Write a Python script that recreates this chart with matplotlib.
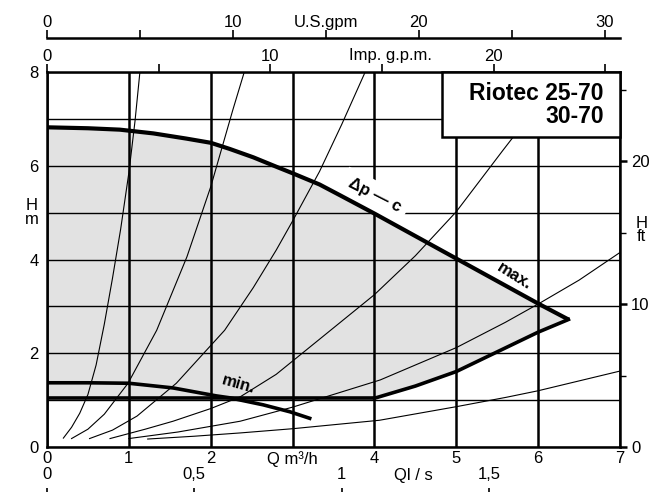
import matplotlib
matplotlib.use('Agg')
import matplotlib.pyplot as plt
from matplotlib.patches import Rectangle

plt.rcParams['font.family'] = ['Liberation Sans', 'DejaVu Sans']
plt.rcParams['font.size'] = 12

# delta-p-c max curve (Q m3/h, H m)
max_q = [0.0, 0.5, 0.89, 1.3, 1.7, 2.0, 2.23, 2.52, 2.8, 3.0, 3.33, 3.58, 4.0, 4.5, 5.0, 5.5, 6.0, 6.37]
max_h = [6.82, 6.80, 6.77, 6.69, 6.58, 6.49, 6.36, 6.18, 5.98, 5.84, 5.60, 5.37, 4.98, 4.50, 4.02, 3.54, 3.06, 2.72]

# right hand limit of the working area (runs out to the tip of the max curve)
low_q = [4.0, 4.5, 5.0, 5.5, 6.0, 6.37]
low_h = [1.04, 1.30, 1.61, 2.03, 2.45, 2.72]

# floor of the delta-p-c area
floor_q = [0.0, 4.0]
floor_h = [1.04, 1.04]

# min curve
min_q = [0.0, 0.5, 1.0, 1.54, 2.07, 2.23, 2.64, 2.97, 3.23]
min_h = [1.37, 1.37, 1.36, 1.26, 1.09, 1.05, 0.90, 0.75, 0.60]

# system curves (thin lines)
sys_a_q = [0.2, 0.3, 0.4, 0.5, 0.6, 0.7, 0.8, 0.9, 1.0, 1.075, 1.135]
sys_a_h = [0.19, 0.42, 0.72, 1.12, 1.75, 2.62, 3.60, 4.65, 5.85, 6.95, 8.0]
sys_b_q = [0.3, 0.5, 0.7, 0.99, 1.34, 1.71, 2.0, 2.27, 2.41]
sys_b_h = [0.18, 0.38, 0.70, 1.36, 2.49, 4.06, 5.55, 7.19, 8.0]
sys_c_q = [0.52, 0.8, 1.1, 1.58, 2.17, 2.52, 2.8, 3.0, 3.33, 3.6, 3.9]
sys_c_h = [0.18, 0.36, 0.66, 1.36, 2.49, 3.40, 4.20, 4.82, 5.88, 6.88, 8.05]
sys_d_q = [0.77, 1.2, 1.54, 2.0, 2.36, 2.8, 3.33, 4.0, 4.5, 5.0, 5.57, 6.0, 6.3]
sys_d_h = [0.18, 0.38, 0.55, 0.82, 1.07, 1.55, 2.30, 3.25, 4.08, 5.02, 6.33, 7.3, 8.0]
sys_e_q = [1.0, 1.6, 2.36, 3.0, 4.07, 5.0, 5.6, 6.02, 6.5, 7.0]
sys_e_h = [0.18, 0.32, 0.55, 0.85, 1.43, 2.12, 2.66, 3.07, 3.56, 4.15]
sys_f_q = [1.23, 1.8, 2.36, 3.0, 4.06, 5.0, 5.61, 6.0, 7.0]
sys_f_h = [0.17, 0.23, 0.30, 0.39, 0.57, 0.86, 1.06, 1.20, 1.62]

# axis ticks
q_ticks = [0, 1, 2, 3, 4, 5, 6, 7]
q_labels = ['0', '1', '2', 'Q m³/h', '4', '5', '6', '7']
h_ticks = [0, 2, 4, 6, 8]
ft_ticks = [0, 10, 20]
ft_minor = [5, 15, 25]
us_ticks = [0, 5, 10, 15, 20, 25, 30]
us_labels = ['0', '', '10', 'U.S.gpm', '20', '', '30']
imp_ticks = [0, 5, 10, 15, 20, 25]
imp_labels = ['0', '', '10', '', '20', '']
ls_ticks = [0, 0.5, 1, 1.5]
ls_labels = ['0', '0,5', '1', '1,5']

US_GPM = 0.227125   # m3/h
IMP_GPM = 0.272765  # m3/h
FT = 0.3048         # m

fig = plt.figure(figsize=(6.54, 4.92), dpi=100)
ax = fig.add_axes([47 / 654, 45 / 492, 573 / 654, 375 / 492])
ax.set_xlim(0, 7)
ax.set_ylim(0, 8)

# grey working area
ax.fill(max_q + low_q[::-1] + floor_q[::-1], max_h + low_h[::-1] + floor_h[::-1],
        color='#e2e2e2', lw=0, zorder=0.5)

# grid
ax.set_xticks(q_ticks, labels=q_labels)
ax.set_yticks(h_ticks)
ax.set_yticks([1, 3, 5, 7], minor=True)
ax.grid(axis='x', which='major', color='black', lw=1.8)
ax.grid(axis='y', which='both', color='black', lw=1.0)
ax.tick_params(which='both', length=0)
ax.tick_params(axis='x', pad=3)
ax.tick_params(axis='y', pad=6)
for s in ax.spines.values():
    s.set_linewidth(1.8)

# system curves
for q, h in [(sys_a_q, sys_a_h), (sys_b_q, sys_b_h), (sys_c_q, sys_c_h),
             (sys_d_q, sys_d_h), (sys_e_q, sys_e_h), (sys_f_q, sys_f_h)]:
    ax.plot(q, h, color='black', lw=0.8, zorder=2)

# pump curves
ax.plot(max_q, max_h, color='black', lw=3.0, zorder=4, solid_capstyle='butt')
ax.plot(low_q, low_h, color='black', lw=2.6, zorder=4)
ax.plot(floor_q, floor_h, color='black', lw=2.6, zorder=4)
ax.plot(min_q, min_h, color='black', lw=2.6, zorder=4, solid_capstyle='butt')

ax.text(4.0, 5.36, 'Δp — c', rotation=-27, ha='center', va='center',
        fontweight='bold', zorder=3,
        bbox=dict(facecolor='white', edgecolor='none', pad=5))
ax.text(5.71, 3.65, 'max.', rotation=-32, ha='center', va='center',
        fontweight='bold', zorder=5)
ax.text(2.34, 1.34, 'min.', rotation=-16, ha='center', va='center',
        fontweight='bold', zorder=5)

# type box
ax.add_patch(Rectangle((0.689, 0.827), 0.311, 0.173, transform=ax.transAxes,
                       facecolor='white', edgecolor='black', lw=1.8,
                       zorder=6, clip_on=False))
ax.text(0.972, 0.912, 'Riotec 25-70\n30-70', transform=ax.transAxes,
        ha='right', va='center', multialignment='right', fontsize=16.5,
        fontweight='bold', linespacing=1.02, zorder=7)

# axis names
ax.text(-0.026, 5.0, 'H\nm', transform=ax.get_yaxis_transform(),
        ha='center', va='center', linespacing=0.95)
ax.text(1.038, 4.63, 'H\nft', transform=ax.get_yaxis_transform(),
        ha='center', va='center', linespacing=0.9)
ax.text(4.47, -0.077, 'Ql / s', transform=ax.get_xaxis_transform(),
        ha='center', va='center')
ax.text(4.19, 1.043, 'Imp. g.p.m.', transform=ax.get_xaxis_transform(),
        ha='center', va='center')

# right axis in feet
sec_ft = ax.secondary_yaxis('right', functions=(lambda m: m / FT, lambda f: f * FT))
sec_ft.set_yticks(ft_ticks)
sec_ft.set_yticks(ft_minor, minor=True)
sec_ft.tick_params(which='major', direction='out', length=5, width=1.8, pad=3)
sec_ft.tick_params(which='minor', direction='out', length=4, width=1.0)
sec_ft.spines['right'].set_visible(False)

# Imp. gpm along the top of the frame
sec_imp = ax.secondary_xaxis('top', functions=(lambda q: q / IMP_GPM, lambda g: g * IMP_GPM))
sec_imp.set_xticks(imp_ticks, labels=imp_labels)
sec_imp.tick_params(direction='out', length=6, width=1.2, pad=0)
sec_imp.spines['top'].set_visible(False)

# U.S. gpm scale above it
sec_us = ax.secondary_xaxis(1.0907, functions=(lambda q: q / US_GPM, lambda g: g * US_GPM))
sec_us.set_xticks(us_ticks, labels=us_labels)
sec_us.tick_params(direction='out', length=6, width=1.2, pad=0)
sec_us.spines['top'].set_linewidth(1.8)

# l/s scale under the chart
sec_ls = ax.secondary_xaxis(-0.13, functions=(lambda q: q / 3.6, lambda l: l * 3.6))
sec_ls.set_alignment('top')
sec_ls.set_xticks(ls_ticks, labels=ls_labels)
sec_ls.tick_params(direction='out', length=6, width=1.2, pad=4)
sec_ls.spines['top'].set_visible(False)

fig.savefig('out.png', dpi=100)
